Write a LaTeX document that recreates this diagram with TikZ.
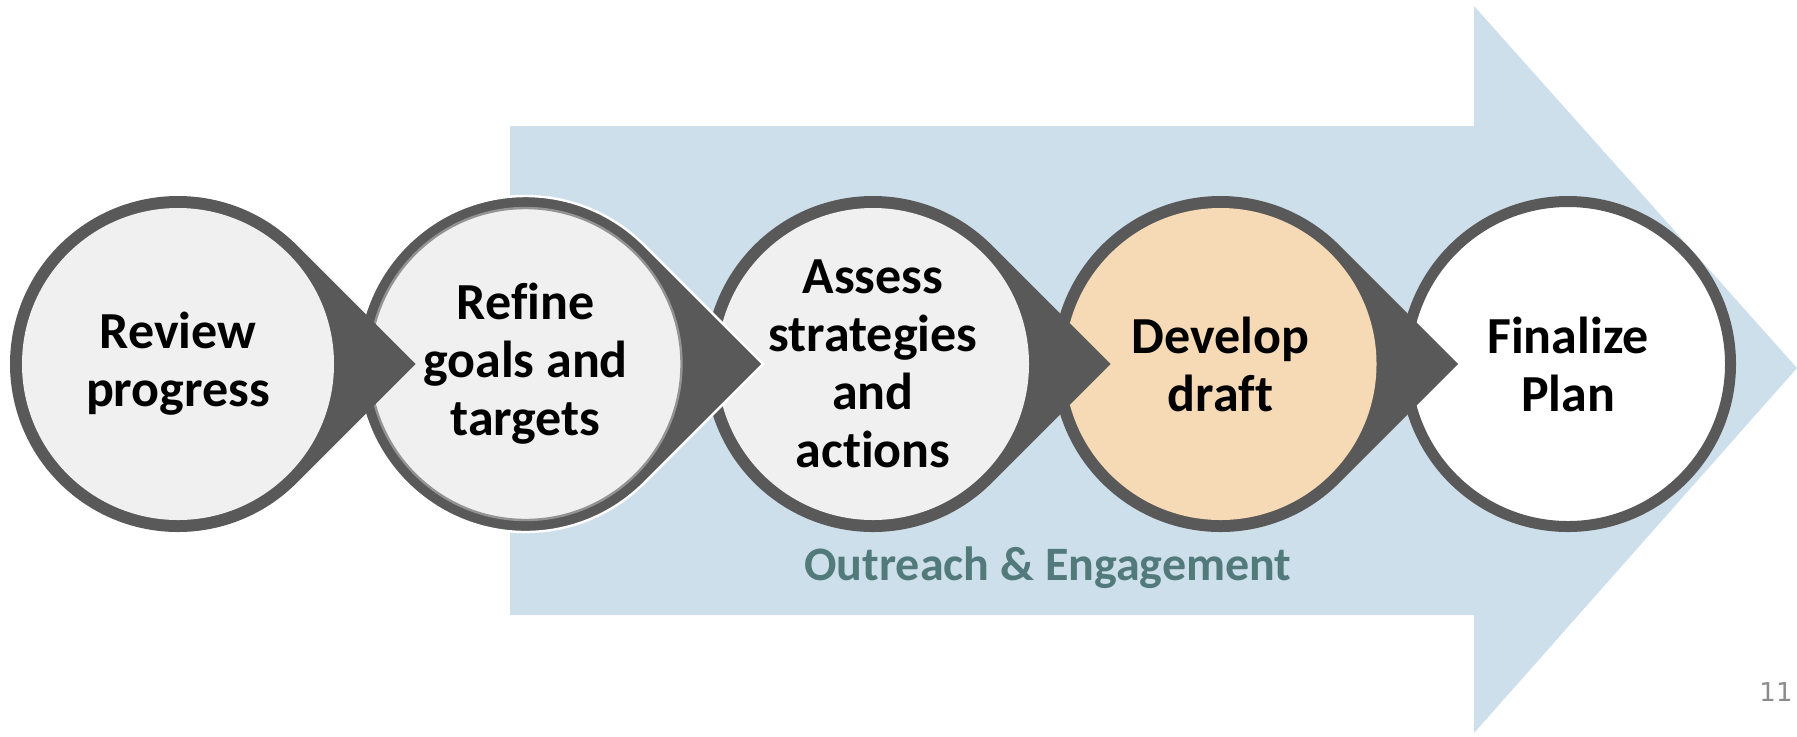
\documentclass[tikz,border=0pt]{standalone}
\usepackage{fontspec}
\setmainfont{Carlito}[Ligatures=NoCommon]
\newfontfamily\pagefont{DejaVu Sans}
\definecolor{arrowblue}{HTML}{CCDFEA}
\definecolor{ringgray}{HTML}{595959}
\definecolor{stepgray}{HTML}{F0F0F0}
\definecolor{draftpeach}{HTML}{F5DAB5}
\definecolor{outreachteal}{HTML}{527A7A}
\definecolor{pagegray}{HTML}{8C8C8C}
\begin{document}
\begin{tikzpicture}[x=0.5pt,y=-0.5pt,
  steptext/.style={align=center,font=\fontsize{26}{29}\selectfont\bfseries}]
\useasboundingbox (0,0) rectangle (1797,736);
% big arrow behind
\fill[arrowblue] (510,126) -- (1474,126) -- (1474,6) -- (1797,368)
  -- (1474,733) -- (1474,615) -- (510,615) -- cycle;
% last step has no point
\filldraw[fill=white,draw=ringgray,line width=5.5pt] (1568,364) circle[radius=162.5];
% the other steps, drawn right to left so each point lies on top
\foreach \cx/\col/\rim/\inner in {1220.5/draftpeach/none/none,
    873/stepgray/none/none, 525.5/stepgray/white/ringgray!65!white,
    178/stepgray/none/none} {
  \filldraw[fill=ringgray,draw=\rim,line width=1.2pt] (\cx,364) ++(45:168)
    arc[start angle=45,end angle=315,radius=168] -- (\cx+237.6,364) -- cycle;
  \filldraw[fill=\col,draw=\inner,line width=1.2pt] (\cx,364) circle[radius=156];
}
\node[steptext] (review) at (178,364) {Review\\progress};
\node[steptext] (refine) at (525.5,364) {Refine\\goals and\\targets};
\node[steptext] (assess) at (873,364) {Assess\\strategies\\and\\actions};
\node[steptext] (draft) at (1220.5,364) {Develop\\draft};
\node[steptext] (finalize) at (1568,364) {Finalize\\Plan};
\node[font=\fontsize{24}{29}\selectfont\bfseries,text=outreachteal]
  (outreach) at (1048,568) {Outreach \& Engagement};
\node[font=\pagefont\fontsize{13}{15}\selectfont,text=pagegray]
  (pagenum) at (1776,692) {11};
\end{tikzpicture}
\end{document}
